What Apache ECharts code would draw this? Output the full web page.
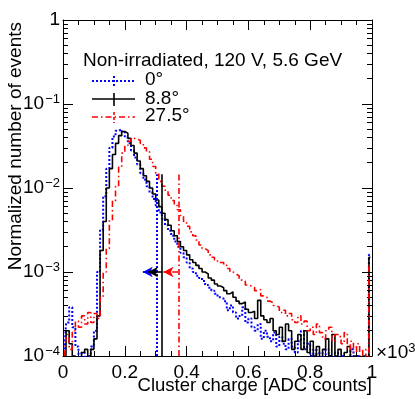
<!DOCTYPE html>
<html>
<head>
    <meta charset="utf-8">
    <title>Cluster charge</title>
    <script src="https://cdn.jsdelivr.net/npm/echarts@6/dist/echarts.min.js"></script>
    <style>
        body { margin: 0; background: #fff; }
    </style>
</head>
<body>
<div id="main" style="width: 415px;height:399px;"></div>
<script type="text/javascript">
    // histogram: 100 bins of width 0.01 (x in units of 10^3 ADC counts)
    var binWidth = 0.01;

    // 0 deg
    var blueVals = [
        1.2e-4, 2.5e-4, 3.8e-4, 2.2e-4, 1.3e-4, 0, 1.1e-4, 0, 1.0e-4, 1.3e-4,
        2.0e-4, 1.0e-3, 3.2e-3, 8.0e-3, 0.017, 0.030, 0.041, 0.048, 0.050, 0.046,
        0.040, 0.034, 0.028, 0.023, 0.019, 0.015, 0.0125, 0.0105, 0.0088, 0.0074,
        0.0062, 0.0051, 0.0043, 0.0036, 0.0031, 0.0027, 0.0023, 0.0020, 0.0017, 0.0015,
        0.0013, 0.0011, 0.0010, 0.0009, 0.00085, 0.00078, 0.0007, 0.00065, 0.0006, 0.00055,
        0.0005, 0.00048, 0.00045, 0.00035, 0.0004, 0.00033, 0.00028, 0.0003, 0.00038, 0.00025,
        0.00028, 0.00022, 0.0002, 0.00024, 0.00016, 0.0002, 0.00017, 0.00015, 0.00019, 0.00013,
        0.00017, 0.00014, 0.00012, 0.00016, 0.00013, 0.00011, 0.00015, 0.0002, 0.00012, 0.00014,
        0.0001, 0.00012, 0, 0.00011, 0, 0.00012, 0.0001, 0, 0.00011, 0,
        0.0001, 0, 0, 0.00012, 0, 0.0001, 0, 0, 0, 0.0016
    ];

    // 8.8 deg
    var blackVals = [
        0, 2.0e-4, 1.4e-4, 1.0e-4, 0, 0, 1.1e-4, 1.2e-4, 0, 1.2e-4,
        1.6e-4, 3.0e-4, 1.8e-3, 4.0e-3, 0.010, 0.017, 0.025, 0.034, 0.042, 0.047,
        0.045, 0.039, 0.032, 0.026, 0.021, 0.017, 0.014, 0.012, 0.010, 0.0085,
        0.0072, 0.0060, 0.0050, 0.0042, 0.0036, 0.0031, 0.0027, 0.0023, 0.0020, 0.0018,
        0.0016, 0.0014, 0.0013, 0.0012, 0.0011, 0.0010, 0.00095, 0.00085, 0.0008, 0.00072,
        0.00068, 0.00065, 0.0006, 0.00055, 0.00058, 0.0005, 0.00045, 0.00042, 0.00044, 0.00036,
        0.00033, 0.00034, 0.00028, 0.00046, 0.0003, 0.00027, 0.00025, 0.00028, 0.0002, 0.00018,
        0.00022, 0.00015, 0.00024, 0.0002, 0.00012, 0.00015, 0.00018, 0.00012, 0.0002, 0.00011,
        0.00015, 0.0001, 0.00013, 0, 0.00012, 0.00016, 0.0001, 0.00018, 0.0001, 0.00012,
        0, 0.00011, 0.00013, 0, 0.0001, 0, 0, 0.0001, 0, 0.0015
    ];

    // 27.5 deg
    var redVals = [
        1.0e-4, 1.8e-4, 1.2e-4, 2.0e-4, 2.6e-4, 2.2e-4, 3.0e-4, 2.4e-4, 3.3e-4, 2.5e-4,
        3.2e-4, 2.8e-4, 5.0e-4, 1.0e-3, 1.9e-3, 4.2e-3, 7.0e-3, 0.0105, 0.0178, 0.026,
        0.032, 0.036, 0.039, 0.038, 0.037, 0.034, 0.030, 0.027, 0.022, 0.018,
        0.015, 0.012, 0.0105, 0.0094, 0.0082, 0.0071, 0.0062, 0.0055, 0.0047, 0.0040,
        0.0035, 0.0030, 0.0027, 0.0024, 0.0021, 0.0019, 0.0018, 0.0016, 0.0015, 0.0014,
        0.0013, 0.0013, 0.0012, 0.0011, 0.0010, 0.00095, 0.0009, 0.0008, 0.00078, 0.0007,
        0.00068, 0.00066, 0.0006, 0.00062, 0.00052, 0.0005, 0.00045, 0.00043, 0.0004, 0.00038,
        0.00033, 0.00035, 0.0003, 0.00032, 0.00027, 0.00025, 0.0003, 0.00024, 0.00026, 0.0002,
        0.00022, 0.00018, 0.00024, 0.00019, 0.00016, 0.0002, 0.00022, 0.00015, 0.00018, 0.00017,
        0.00014, 0.00019, 0.00012, 0.00015, 0.00011, 0.00014, 0.0001, 0.00012, 0, 0.0012
    ];

    var seriesNames = ['0°', '8.8°', '27.5°'];
    var cutValues = [0.304, 0.321, 0.373];     // vertical cut lines
    var arrowTips = [0.258, 0.275, 0.325];     // arrow heads, pointing left
    var cutTop = 0.0146;
    var arrowLevel = 1e-3;

    var yMinor = [];
    for (var e = -4; e < 0; e++) {
        for (var m = 2; m <= 9; m++) yMinor.push(m * Math.pow(10, e));
    }

    var font = '"Liberation Sans", Arial, sans-serif';
    var fs = 19;

    var blueLine = {color: '#0000ff', width: 2, type: [2, 2]};
    var blackLine = {color: '#000000', width: 1.6, type: 'solid'};
    var redLine = {color: '#ff0000', width: 1.6, type: [6, 3, 1.5, 3]};

    function toPoints(vals) {
        var pts = [];
        for (var i = 0; i < vals.length; i++) {
            var c = binWidth * (i + 0.5);
            pts.push([c, vals[i] > 0 ? vals[i] : 1e-7]);
        }
        return pts;
    }

    function cutLines(k, ls) {
        return {
            silent: true,
            symbol: ['none', 'none'],
            label: {show: false},
            lineStyle: ls,
            emphasis: {disabled: true},
            animation: false,
            data: [
                [{coord: [cutValues[k], 1e-4]}, {coord: [cutValues[k], cutTop]}],
                [{coord: [cutValues[k], arrowLevel]}, {coord: [arrowTips[k], arrowLevel], symbol: 'arrow', symbolSize: [8, 10]}]
            ]
        };
    }

    var myChart = echarts.init(document.getElementById('main'), null, {renderer: 'canvas'});

    var tickStyle = {color: '#000', width: 1};
    var yLabelFmt = function (v) {
        var ex = Math.round(Math.log10(v));
        if (ex === 0) return '{b|1}';
        return '{b|10}{s|\u2212' + Math.abs(ex) + '}';
    };

    var option = {
        animation: false,
        backgroundColor: '#fff',
        grid: {left: 63, right: 43, top: 20, bottom: 43, show: false},
        xAxis: [
            {
                type: 'value', min: 0, max: 1, interval: 0.2, position: 'bottom',
                axisLine: {show: true, lineStyle: tickStyle},
                axisTick: {show: true, inside: true, length: 10, lineStyle: tickStyle},
                minorTick: {show: true, splitNumber: 4, length: 5, lineStyle: tickStyle},
                splitLine: {show: false},
                axisLabel: {
                    margin: 7, color: '#000', fontSize: fs, fontFamily: font,
                    formatter: function (v) { return (v === 0 || v === 1) ? String(v) : v.toFixed(1); }
                }
            },
            {
                type: 'value', min: 0, max: 1, interval: 0.2, position: 'top',
                axisLine: {show: true, lineStyle: tickStyle},
                axisTick: {show: true, inside: true, length: 10, lineStyle: tickStyle},
                minorTick: {show: true, splitNumber: 4, length: 5, lineStyle: tickStyle},
                splitLine: {show: false},
                axisLabel: {show: false}
            }
        ],
        yAxis: [
            {
                type: 'log', logBase: 10, min: 1e-4, max: 1, position: 'left',
                axisLine: {show: true, lineStyle: tickStyle},
                axisTick: {show: true, inside: true, length: 10, lineStyle: tickStyle},
                splitLine: {show: false},
                axisLabel: {
                    margin: 3, color: '#000', fontFamily: font, formatter: yLabelFmt,
                    rich: {
                        b: {fontSize: fs, fontFamily: font, color: '#000'},
                        s: {fontSize: 13, fontFamily: font, color: '#000', padding: [0, 0, 9, 1]}
                    }
                }
            },
            {
                type: 'log', logBase: 10, min: 1e-4, max: 1, position: 'left',
                axisLine: {show: false},
                axisTick: {show: true, inside: true, length: 5, lineStyle: tickStyle, customValues: yMinor},
                splitLine: {show: false},
                axisLabel: {show: false}
            },
            {
                type: 'log', logBase: 10, min: 1e-4, max: 1, position: 'right',
                axisLine: {show: true, lineStyle: tickStyle},
                axisTick: {show: true, inside: true, length: 10, lineStyle: tickStyle},
                splitLine: {show: false},
                axisLabel: {show: false}
            },
            {
                type: 'log', logBase: 10, min: 1e-4, max: 1, position: 'right',
                axisLine: {show: false},
                axisTick: {show: true, inside: true, length: 5, lineStyle: tickStyle, customValues: yMinor},
                splitLine: {show: false},
                axisLabel: {show: false}
            }
        ],
        series: [
            {
                name: seriesNames[0], type: 'line', step: 'middle', showSymbol: false, clip: true,
                data: toPoints(blueVals),
                lineStyle: blueLine,
                itemStyle: {color: '#0000ff'},
                markLine: cutLines(0, blueLine)
            },
            {
                name: seriesNames[1], type: 'line', step: 'middle', showSymbol: false, clip: true,
                data: toPoints(blackVals),
                lineStyle: blackLine,
                itemStyle: {color: '#000000'},
                markLine: cutLines(1, blackLine)
            },
            {
                name: seriesNames[2], type: 'line', step: 'middle', showSymbol: false, clip: true,
                data: toPoints(redVals),
                lineStyle: redLine,
                itemStyle: {color: '#ff0000'},
                markLine: cutLines(2, redLine)
            }
        ],
        graphic: [
            {type: 'text', x: 83, y: 61, style: {text: 'Non-irradiated, 120 V, 5.6 GeV', font: fs + 'px ' + font, fill: '#000', verticalAlign: 'middle'}},
            {type: 'line', shape: {x1: 92, y1: 81, x2: 135, y2: 81}, style: {stroke: '#0000ff', lineWidth: 2, lineDash: [2, 2]}},
            {type: 'line', shape: {x1: 114, y1: 76, x2: 114, y2: 87}, style: {stroke: '#0000ff', lineWidth: 2, lineDash: [2, 2]}},
            {type: 'text', x: 145, y: 80, style: {text: seriesNames[0], font: fs + 'px ' + font, fill: '#000', verticalAlign: 'middle'}},
            {type: 'line', shape: {x1: 92, y1: 99, x2: 135, y2: 99}, style: {stroke: '#000', lineWidth: 1.6}},
            {type: 'line', shape: {x1: 114, y1: 93, x2: 114, y2: 106}, style: {stroke: '#000', lineWidth: 1.6}},
            {type: 'text', x: 145, y: 99, style: {text: seriesNames[1], font: fs + 'px ' + font, fill: '#000', verticalAlign: 'middle'}},
            {type: 'line', shape: {x1: 92, y1: 117, x2: 135, y2: 117}, style: {stroke: '#ff0000', lineWidth: 1.6, lineDash: [6, 3, 1.5, 3]}},
            {type: 'line', shape: {x1: 114, y1: 112, x2: 114, y2: 123}, style: {stroke: '#ff0000', lineWidth: 1.6, lineDash: [3, 2]}},
            {type: 'text', x: 145, y: 116, style: {text: seriesNames[2], font: fs + 'px ' + font, fill: '#000', verticalAlign: 'middle'}},
            {type: 'text', x: 16, y: 22, rotation: Math.PI / 2, style: {text: 'Normalized number of events', font: fs + 'px ' + font, fill: '#000', align: 'right', verticalAlign: 'middle'}},
            {type: 'text', x: 372, y: 386, style: {text: 'Cluster charge [ADC counts]', font: '18.5px ' + font, fill: '#000', align: 'right', verticalAlign: 'middle'}},
            {type: 'text', x: 376, y: 353, style: {text: '\u00d710{s|3}', font: fs + 'px ' + font, fill: '#000', verticalAlign: 'middle',
                rich: {s: {fontSize: 13, fontFamily: font, fill: '#000', padding: [0, 0, 9, 0]}}}}
        ]
    };

    myChart.setOption(option);
</script>
</body>
</html>
